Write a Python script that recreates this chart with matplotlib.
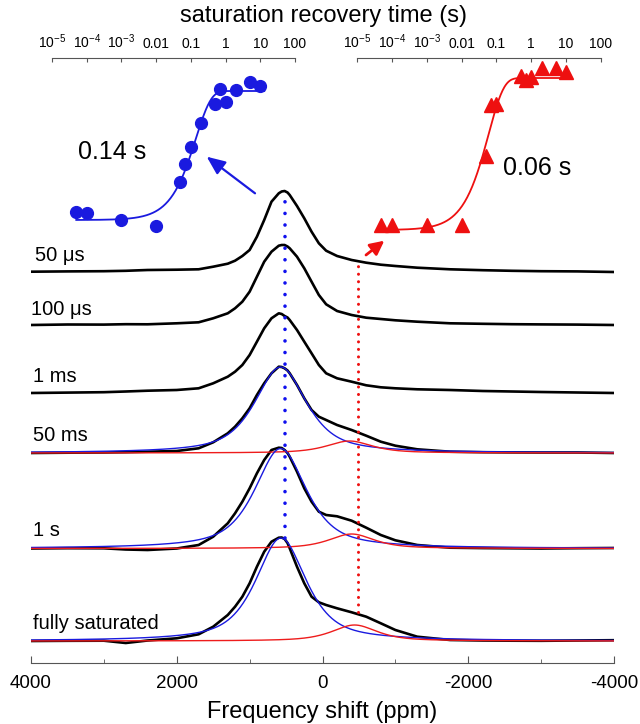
import numpy as np
import matplotlib
matplotlib.use("Agg")
import matplotlib.pyplot as plt
from matplotlib.ticker import LogLocator, NullFormatter

plt.rcParams['font.family'] = ['Liberation Sans', 'DejaVu Sans']
plt.rcParams['mathtext.default'] = 'regular'

# ---- spectra (intensity, arbitrary units) ----
shift = [4000, 3500, 3000, 2700, 2400, 2000, 1700, 1500, 1300, 1200, 1100, 1000,
         900, 800, 700, 600, 560, 520, 480, 450, 350, 250, 150, 50, -50, -200, -400, -600,
         -800, -1000, -1300, -1750, -2200, -2600, -3000, -3500, -4000]

spec_50us = [0.3, 0.6, 0.8, 1.2, 2.0, 2.3, 2.7, 5.3, 8.3, 11.3, 16.0, 22.0,
             35.3, 52.0, 70.3, 78.7, 80.5, 81.0, 79.5, 77.0, 66.0, 53.7, 40.3, 28.7, 21.3, 16.0, 12.0, 9.3,
             7.3, 6.0, 4.3, 2.7, 1.8, 1.2, 0.8, 0.6, 0.0]
spec_100us = [0.0, 0.5, 0.4, 0.8, 0.7, 1.7, 2.7, 6.7, 11.7, 16.7, 23.3, 33.3,
              48.3, 63.3, 73.3, 79.3, 80.0, 80.0, 78.5, 76.7, 68.3, 56.7, 43.3, 30.0, 20.7, 14.0, 10.0, 7.3,
              6.0, 4.7, 3.3, 1.7, 1.2, 0.8, 0.6, 0.4, 0.0]
spec_1ms = [0.0, 0.4, 0.8, 1.5, 2.3, 3.0, 4.7, 9.7, 16.3, 21.3, 28.0, 38.0,
            51.3, 64.7, 74.7, 79.7, 79.0, 77.0, 75.5, 73.0, 63.0, 51.3, 39.7, 28.0, 19.7, 14.7, 11.3, 7.7,
            5.7, 4.7, 3.7, 3.0, 2.0, 1.5, 1.0, 0.5, 0.0]
spec_50ms = [0.0, 0.3, 0.5, 0.8, 1.3, 2.0, 4.7, 10.7, 19.7, 26.3, 34.7, 44.7,
             58.0, 69.7, 79.7, 86.3, 86.0, 84.7, 82.5, 79.7, 68.0, 54.7, 43.0, 36.3, 33.0, 28.0, 23.0, 17.3,
             11.3, 7.3, 3.7, 1.3, 0.8, 0.6, 0.5, 0.5, 0.0]
spec_1s = [0.0, 0.3, 0.2, -1.0, -1.5, 0.0, 3.5, 11.8, 25.2, 35.2, 46.8, 60.2,
           75.2, 88.5, 98.5, 100.8, 100.5, 98.5, 95.5, 91.8, 76.8, 60.2, 46.8, 36.8, 33.5, 32.2, 27.8, 20.8,
           13.5, 8.2, 3.5, 0.8, 0.4, 0.2, 0.0, 0.3, 0.5]
spec_sat = [0.0, 0.2, 0.3, -2.0, 0.5, 2.7, 6.7, 14.3, 26.0, 34.3, 44.3, 57.7,
            74.3, 89.3, 99.3, 103.3, 103.5, 102.0, 98.0, 92.7, 74.3, 57.7, 44.3, 38.7, 36.0, 32.7, 28.7, 24.3,
            17.7, 11.0, 4.3, 1.0, 0.5, 0.3, 0.2, 0.5, 0.8]

spectra = [spec_50us, spec_100us, spec_1ms, spec_50ms, spec_1s, spec_sat]
labels = ['50 \u03bcs', '100 \u03bcs', '1 ms', '50 ms', '1 s', 'fully saturated']

# fitted components for the last three spectra (center ppm, hwhm ppm, height)
fit_blue = [(575, 420, 86.0), (575, 420, 100.0), (570, 410, 103.0)]
fit_red = [(-370, 370, 12.0), (-400, 370, 14.5), (-440, 370, 16.0)]
lorentz_frac = 0.7  # pseudo-Voigt mixing

peak_main = 520    # ppm, blue dotted marker
peak_minor = -490  # ppm, red dotted marker

# ---- saturation recovery data (inset) ----
t_blue = [5e-5, 1e-4, 1e-3, 0.01, 0.05, 0.07, 0.1, 0.2, 0.5, 0.7, 1, 2, 5, 10]
s_blue = [28, 27, 20, 14, 58, 76, 93, 117, 136, 151, 138, 150, 158, 154]
t_red = [5e-5, 1e-4, 1e-3, 0.01, 0.05, 0.07, 0.1, 0.5, 0.7, 1, 2, 5, 10]
s_red = [15, 15, 15, 15, 84, 135, 136, 164, 160, 163, 172, 172, 168]
T1_blue, T1_red = 0.14, 0.06
fit_lim_blue = (20, 149)
fit_lim_red = (10, 162)

time_ticks = [1e-5, 1e-4, 1e-3, 0.01, 0.1, 1, 10, 100]
time_labels = ['$10^{-5}$', '$10^{-4}$', '$10^{-3}$', '0.01', '0.1', '1', '10', '100']


def pvoigt(xv, c, w, h, eta):
    u = ((xv - c) / w) ** 2
    return h * (eta / (1 + u) + (1 - eta) * np.exp(-np.log(2) * u))


# ---- layout ----
W, H = 640, 724
def px_box(x0, y0, x1, y1):
    return [x0 / W, 1 - y1 / H, (x1 - x0) / W, (y1 - y0) / H]

fig = plt.figure(figsize=(6.4, 7.24), dpi=100)
ax = fig.add_axes(px_box(31, 100, 614, 662.7))
ax.set_xlim(4000, -4000)
ax.set_ylim(0, 562.7)
offsets = [390.7, 337.7, 269.7, 209.7, 114.2, 21.7]

x = np.array(shift, dtype=float)
xf = np.linspace(4000, -4000, 801)
for i, (spec, off) in enumerate(zip(spectra, offsets)):
    ax.plot(x, np.array(spec) + off, color='black', lw=1.9, zorder=3,
            solid_joinstyle='round')
    if i >= 3:
        ax.plot(xf, off + pvoigt(xf, *fit_blue[i - 3], lorentz_frac),
                color='#1a1adf', lw=1.0, zorder=4)
        ax.plot(xf, off + pvoigt(xf, *fit_red[i - 3], lorentz_frac),
                color='#ee1c1c', lw=1.0, zorder=4)

label_y = [407.7, 353.7, 286, 227.7, 132.7, 39.4]
label_x = [3940, 4000, 3975, 3975, 3975, 3975]
for lab, lx, ly in zip(labels, label_x, label_y):
    ax.text(lx, ly, lab, fontsize=14.5, ha='left', va='center')

ax.plot([peak_main, peak_main], [124.7, 463.7], color='#1010ee', lw=2.6,
        linestyle=(0, (0.01, 3.2)), dash_capstyle='round', zorder=5)
ax.plot([peak_minor, peak_minor], [50.7, 401], color='#ee1010', lw=2.2,
        linestyle=(0, (0.01, 2.45)), dash_capstyle='round', zorder=5)

ax.annotate('', xy=(1589, 506), xytext=(926, 469.4), annotation_clip=False,
            arrowprops=dict(arrowstyle='-|>,head_length=0.7,head_width=0.3',
                            color='#1a1adf', lw=1.6, mutation_scale=16, shrinkA=0, shrinkB=0))
ax.annotate('', xy=(-848, 422), xytext=(-597, 407.7), annotation_clip=False,
            arrowprops=dict(arrowstyle='-|>,head_length=0.6,head_width=0.3',
                            color='#ee1010', lw=2.0, mutation_scale=14, shrinkA=0, shrinkB=0))

for sp in ['left', 'right', 'top']:
    ax.spines[sp].set_visible(False)
ax.spines['bottom'].set_color('#555555')
ax.set_yticks([])
ax.set_xticks([4000, 2000, 0, -2000, -4000])
ax.set_xticklabels(['4000', '2000', '0', '-2000', '-4000'], fontsize=13.5)
ax.set_xticks([3000, 1000, -1000, -3000], minor=True)
ax.tick_params(axis='x', which='both', direction='in', color='#555555', pad=9)
ax.tick_params(axis='x', which='major', length=5)
ax.tick_params(axis='x', which='minor', length=3)
ax.set_xlabel('Frequency shift (ppm)', fontsize=17, labelpad=6)

# ---- insets ----
insets = [((52, 58, 295, 240), t_blue, s_blue, T1_blue, fit_lim_blue, '#1a1adf', 'o', 8.5),
          ((357, 58, 601, 240), t_red, s_red, T1_red, fit_lim_red, '#ee1010', '^', 9.5)]
for box, tt, ss, T1, lim, col, mk, ms in insets:
    ins = fig.add_axes(px_box(*box))
    ins.set_xscale('log')
    ins.set_xlim(1e-5, 100)
    ins.set_ylim(0, 182)
    ins.patch.set_alpha(0)
    tf = np.logspace(np.log10(tt[0]), np.log10(tt[-1] * 1.3), 300)
    ins.plot(tf, lim[0] + (lim[1] - lim[0]) * (1 - np.exp(-tf / T1)), color=col, lw=1.3)
    ins.plot(tt, ss, linestyle='none', marker=mk, ms=ms, color=col, clip_on=False)
    for sp in ['left', 'right', 'bottom']:
        ins.spines[sp].set_visible(False)
    ins.spines['top'].set_color('#555555')
    ins.spines['top'].set_linewidth(0.8)
    ins.set_yticks([])
    ins.xaxis.tick_top()
    ins.set_xticks(time_ticks)
    ins.set_xticklabels(time_labels, fontsize=10)
    ins.xaxis.set_minor_locator(LogLocator(base=10, subs=np.arange(2, 10)))
    ins.xaxis.set_minor_formatter(NullFormatter())
    ins.tick_params(axis='x', which='both', direction='in', color='#555555', pad=5)
    ins.tick_params(axis='x', which='major', length=3)
    ins.tick_params(axis='x', which='minor', length=1.5)

fig.text(323.5 / W, 1 - 16 / H, 'saturation recovery time (s)', fontsize=17, ha='center', va='center')
fig.text(112 / W, 1 - 152 / H, '0.14 s', fontsize=18, ha='center', va='center')
fig.text(537 / W, 1 - 168 / H, '0.06 s', fontsize=18, ha='center', va='center')

fig.savefig('out.png', dpi=100)
